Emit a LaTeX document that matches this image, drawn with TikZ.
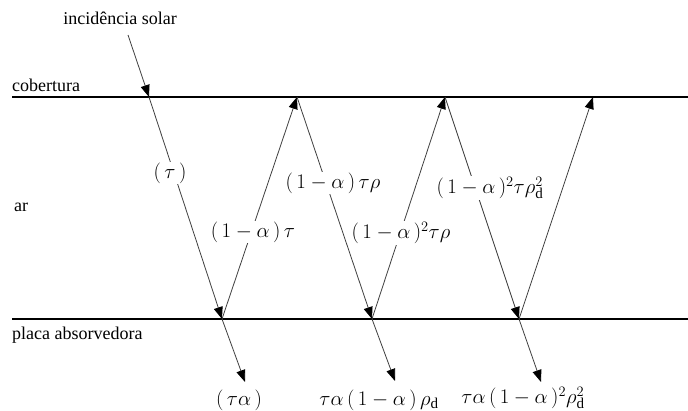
\documentclass[tikz,border=0pt]{standalone}
\usepackage{fontspec}
\setmainfont{Liberation Serif}
\usetikzlibrary{arrows.meta}
\begin{document}
\begin{tikzpicture}[x=1pt,y=-1pt,
  surface/.style={line width=2.6pt},
  ray/.style={draw=black!75, line width=0.8pt, -{Triangle[length=12pt,width=9pt,color=black]}},
  lbl/.style={fill=white, inner sep=1pt, font=\fontsize{21.5}{24}\selectfont},
  txt/.style={font=\fontsize{18}{20}\selectfont, inner sep=0pt}]
\clip (0,0) rectangle (688,410);
\fill[white] (0,0) rectangle (688,410);
% surfaces
\coordinate (topL) at (12,97);
\coordinate (topR) at (688,97);
\coordinate (botL) at (12,319);
\coordinate (botR) at (688,319);
\draw[surface] (topL) -- (topR);
\draw[surface] (botL) -- (botR);
% layer names
\node[txt, anchor=base west] (cob) at (12,91) {cobertura};
\node[txt, anchor=base west] (ar) at (14,211) {ar};
\node[txt, anchor=base west] (placa) at (12,339) {placa absorvedora};
\node[txt, anchor=base] (sol) at (120,24) {incidência solar};
% hit points
\coordinate (s) at (128,35);
\coordinate (t1) at (149,97);
\coordinate (b1) at (222,319);
\coordinate (t2) at (297,97);
\coordinate (b2) at (372,319);
\coordinate (t3) at (445,97);
\coordinate (b3) at (519,319);
\coordinate (t4) at (593,97);
\coordinate (e1) at (245,382);
\coordinate (e2) at (395,381);
\coordinate (e3) at (541,382);
% rays
\draw[ray] (s) -- (t1);
\draw[ray] (t1) -- (b1);
\draw[ray] (b1) -- (t2);
\draw[ray] (t2) -- (b2);
\draw[ray] (b2) -- (t3);
\draw[ray] (t3) -- (b3);
\draw[ray] (b3) -- (t4);
\draw[ray] (b1) -- (e1);
\draw[ray] (b2) -- (e2);
\draw[ray] (b3) -- (e3);
% labels on rays
\node[lbl] (l1) at (170,173) {$(\,\tau\,)$};
\node[lbl] (l2) at (253,232) {$(\,1-\alpha\,)\,\tau$};
\node[lbl] (l3) at (333,183) {$(\,1-\alpha\,)\,\tau\rho$};
\node[lbl] (l4) at (401,233) {$(\,1-\alpha\,)^{2}\tau\rho$};
\node[lbl] (l5) at (490,188) {$(\,1-\alpha\,)^{2}\tau\rho_{\mathrm{d}}^{2}$};
% exit labels
\node[lbl, fill=none] (o1) at (239,400) {$(\,\tau\alpha\,)$};
\node[lbl, fill=none] (o2) at (379,400) {$\tau\alpha\,(\,1-\alpha\,)\,\rho_{\mathrm{d}}$};
\node[lbl, fill=none] (o3) at (523,398) {$\tau\alpha\,(\,1-\alpha\,)^{2}\rho_{\mathrm{d}}^{2}$};
\end{tikzpicture}
\end{document}
